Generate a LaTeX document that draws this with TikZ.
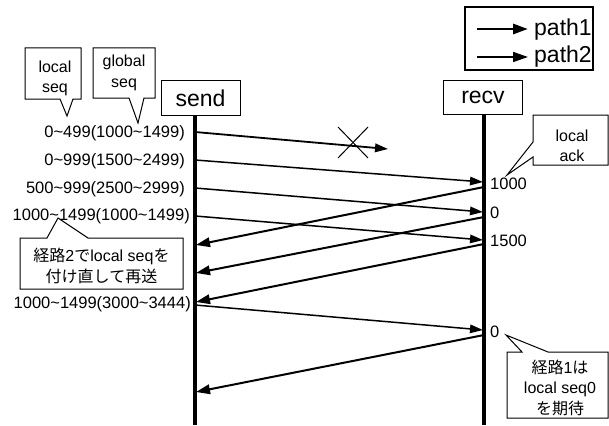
\documentclass[tikz,border=0pt]{standalone}
\usepackage{fontspec}
\setmainfont{Liberation Sans}
\newfontfamily\jpfont{Noto Sans CJK JP}
\usetikzlibrary{arrows.meta}
\newcommand\jpt[1]{{\jpfont #1}}
\newcommand\tld{\textasciitilde}
\tikzset{
  lifeline/.style={line width=3.2pt},
  actorbox/.style={draw, line width=1pt, minimum width=79pt, minimum height=34pt, inner sep=0pt, font=\fontsize{23}{25}\selectfont},
  seqlabel/.style={anchor=east, inner sep=0pt, text height=11.6pt, text depth=0pt, font=\fontsize{16.5}{18}\selectfont},
  acklabel/.style={anchor=west, inner sep=0pt, text height=11.4pt, text depth=0pt, font=\fontsize{16.5}{18}\selectfont},
  dataarrow/.style={line width=1.5pt, -{Triangle[length=13pt,width=8.5pt]}},
  ackarrow/.style={line width=2pt, -{Triangle[length=14pt,width=9.5pt]}},
  callout/.style={draw, line width=1pt, fill=white},
  callouttext/.style={align=center, inner sep=0pt, font=\fontsize{16}{20.5}\selectfont},
  legendtext/.style={anchor=west, inner sep=0pt, font=\fontsize{23}{25}\selectfont},
}
\begin{document}
\begin{tikzpicture}[x=1pt,y=-1pt]
\useasboundingbox (0,0) rectangle (609,425);
\fill[white] (0,0) rectangle (609,425);

% legend
\node[draw, line width=2.8pt, minimum width=128pt, minimum height=63pt, inner sep=0pt] (legend) at (529,38.5) {};
\coordinate (l1a) at (477,29); \coordinate (l1b) at (528,29);
\coordinate (l2a) at (477,57); \coordinate (l2b) at (528,57);
\draw[line width=2.8pt, -{Triangle[length=15pt,width=10pt]}] (l1a) -- (l1b);
\draw[line width=1.6pt, -{Triangle[length=15pt,width=10pt]}] (l2a) -- (l2b);
\node[legendtext] (p1) at (534,30) {path1};
\node[legendtext] (p2) at (534,57) {path2};

% actors
\node[actorbox] (send) at (200.5,98) {send};
\node[actorbox] (recv) at (483,97.5) {recv};
\coordinate (sendtop) at (195,115); \coordinate (sendbot) at (195,425);
\coordinate (recvtop) at (484,115); \coordinate (recvbot) at (484,425);
\draw[lifeline] (sendtop) -- (sendbot);
\draw[lifeline] (recvtop) -- (recvbot);

% sequence labels
\node[seqlabel] (q1) at (185,132) {0\tld 499(1000\tld 1499)};
\node[seqlabel] (q2) at (185,160) {0\tld 999(1500\tld 2499)};
\node[seqlabel] (q3) at (185,187.5) {500\tld 999(2500\tld 2999)};
\node[seqlabel] (q4) at (190,215) {1000\tld 1499(1000\tld 1499)};
\node[seqlabel] (q5) at (191,303) {1000\tld 1499(3000\tld 3444)};

% ack labels
\node[acklabel] (r1) at (490,184) {1000};
\node[acklabel] (r2) at (490,213) {0};
\node[acklabel] (r3) at (490,241) {1500};
\node[acklabel] (r4) at (490,332) {0};

% data arrows
\coordinate (s1) at (195,132); \coordinate (lost) at (388,149);
\coordinate (s2) at (195,160); \coordinate (e2) at (483,182);
\coordinate (s3) at (195,188); \coordinate (e3) at (483,212);
\coordinate (s4) at (195,216); \coordinate (e4) at (483,240);
\coordinate (s5) at (195,305); \coordinate (e5) at (483,330);
\draw[dataarrow, line width=1.8pt] (s1) -- (lost);
\draw[dataarrow] (s2) -- (e2);
\draw[dataarrow] (s3) -- (e3);
\draw[dataarrow] (s4) -- (e4);
\draw[dataarrow] (s5) -- (e5);

% lost mark
\coordinate (xa) at (338,127); \coordinate (xb) at (368,158);
\coordinate (xc) at (338,158); \coordinate (xd) at (368,127);
\draw[line width=1pt] (xa) -- (xb);
\draw[line width=1pt] (xc) -- (xd);

% ack arrows
\coordinate (k1s) at (484,187); \coordinate (k1e) at (196,245);
\coordinate (k2s) at (484,217); \coordinate (k2e) at (196,273);
\coordinate (k3s) at (484,244); \coordinate (k3e) at (196,302);
\coordinate (k4s) at (484,335); \coordinate (k4e) at (196,392);
\draw[ackarrow] (k1s) -- (k1e);
\draw[ackarrow] (k2s) -- (k2e);
\draw[ackarrow] (k3s) -- (k3e);
\draw[ackarrow] (k4s) -- (k4e);

% callouts
\draw[callout] (25,48) -- (81,48) -- (81,99) -- (73,99) -- (67,116) -- (60,99) -- (25,99) -- cycle;
\node[callouttext] (c1) at (55,78.5) {local\\seq};

\draw[callout] (93,48) -- (155,48) -- (155,98) -- (144,98) -- (138,123) -- (129,98) -- (93,98) -- cycle;
\node[callouttext] (c2) at (124,73) {global\\seq};

\draw[callout] (533,115) -- (608,115) -- (608,165) -- (533,165) -- (533,157) -- (507,175) -- (533,142) -- cycle;
\node[callouttext] (c3) at (572,146) {local\\ack};

\draw[callout] (20,238) -- (47,238) -- (58,218) -- (88,238) -- (183,238) -- (183,289) -- (20,289) -- cycle;
\node[callouttext] (c4) at (101.5,266) {\jpt{経路}2\jpt{で}local seq\jpt{を}\\\jpt{付け直して再送}};

\draw[callout] (507,352) -- (522,352) -- (506,335) -- (548,352) -- (608,352) -- (608,418) -- (507,418) -- cycle;
\node[callouttext] (c5) at (560,387.5) {\jpt{経路}1\jpt{は}\\local seq0\\\jpt{を期待}};
\end{tikzpicture}
\end{document}
